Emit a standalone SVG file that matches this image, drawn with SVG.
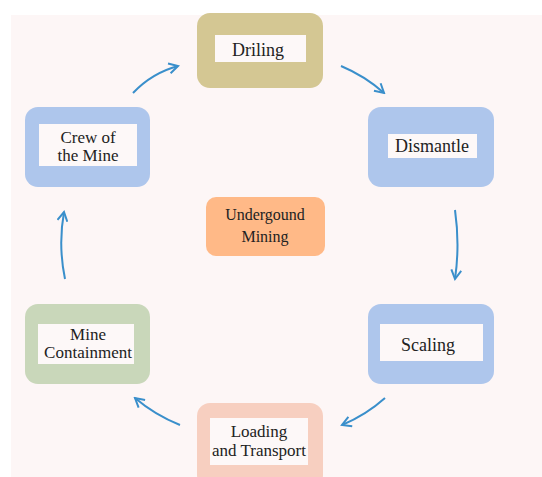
<svg xmlns="http://www.w3.org/2000/svg" width="542" height="477" viewBox="0 0 542 477">
<style>
text{font-family:'Liberation Serif','Times New Roman',serif;font-size:17px;fill:#222;text-anchor:middle}
.in{fill:#fdf8f8}
.c{fill:none;stroke:#3a8fcb;stroke-width:2;marker-end:url(#ah)}
</style>
<defs>
<marker id="ah" viewBox="0 0 12 12" refX="10" refY="6" markerWidth="12" markerHeight="12" markerUnits="userSpaceOnUse" orient="auto">
<path d="M1,1 L10,6 L1,11" fill="none" stroke="#3a8fcb" stroke-width="2"/>
</marker>
</defs>
<rect x="0" y="0" width="542" height="477" fill="#fff"/>
<rect x="11" y="15" width="531" height="462" fill="#fdf6f6"/>
<g id="connectors">
<path class="c" d="M133,93 Q152,73 178,66"/>
<path class="c" d="M341,66 Q365,76 384,93"/>
<path class="c" d="M455,210 Q460,245 455,279"/>
<path class="c" d="M385,398 Q366,415 342,425"/>
<path class="c" d="M180,425 Q155,415 135,398"/>
<path class="c" d="M65,279 Q58,245 64,212"/>
</g>
<g id="driling">
<rect x="197" y="13" width="126" height="75" rx="13" fill="#d4c793"/>
<rect class="in" x="215" y="35" width="91" height="27"/>
<text x="258" y="56" style="font-size:18px">Driling</text>
</g>
<g id="dismantle">
<rect x="368" y="107" width="126" height="80" rx="13" fill="#aec6ec"/>
<rect class="in" x="388" y="134" width="89" height="24"/>
<text x="432" y="152" style="font-size:18px">Dismantle</text>
</g>
<g id="scaling">
<rect x="368" y="304" width="126" height="80" rx="13" fill="#aec6ec"/>
<rect class="in" x="380" y="324" width="103" height="37"/>
<text x="428" y="351" style="font-size:18px">Scaling</text>
</g>
<g id="loading">
<rect x="197" y="403" width="126" height="85" rx="13" fill="#f7cfc0"/>
<rect class="in" x="210" y="418" width="98" height="47"/>
<text x="259" y="437">Loading</text>
<text x="259" y="456">and Transport</text>
</g>
<g id="containment">
<rect x="25" y="304" width="125" height="80" rx="13" fill="#c9d7ba"/>
<rect class="in" x="38" y="324" width="96" height="40"/>
<text x="88" y="340">Mine</text>
<text x="88" y="358">Containment</text>
</g>
<g id="crew">
<rect x="25" y="107" width="125" height="80" rx="13" fill="#aec6ec"/>
<rect class="in" x="39" y="124" width="98" height="42"/>
<text x="88" y="143">Crew of</text>
<text x="88" y="161">the Mine</text>
</g>
<g id="underground">
<rect x="206" y="197" width="119" height="59" rx="10" fill="#ffb987"/>
<text x="265" y="220" style="font-size:16px">Undergound</text>
<text x="265" y="242" style="font-size:16px">Mining</text>
</g>
</svg>
